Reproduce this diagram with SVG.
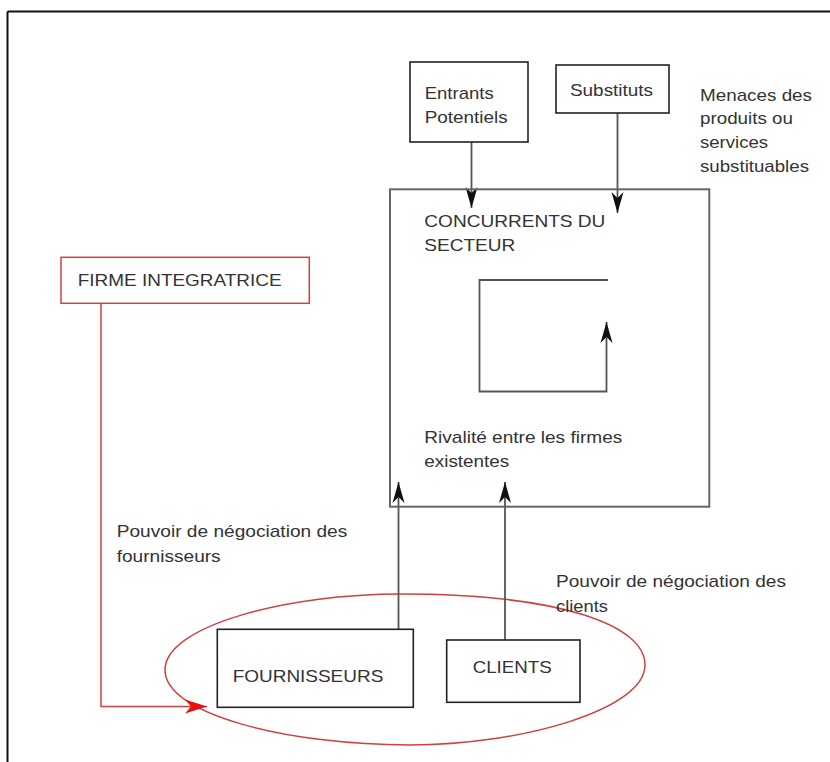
<svg xmlns="http://www.w3.org/2000/svg" width="830" height="762" viewBox="0 0 830 762">
<style>
text{font-family:"Liberation Sans",Arial,sans-serif;font-size:17px;fill:#333}
.box{fill:#fff;stroke:#222;stroke-width:1.6}
.gbox{fill:none;stroke:#666;stroke-width:2}
.con{fill:none;stroke:#555;stroke-width:1.8}
.red{fill:none;stroke:#d04040;stroke-width:1.5}
</style>
<defs>
<marker id="ah" viewBox="-22 -7 24 14" refX="0" refY="0" markerWidth="24" markerHeight="14" markerUnits="userSpaceOnUse" orient="auto">
<path d="M0,0 L-21,-6 L-15,0 L-21,6 Z" fill="#111"/>
</marker>
<marker id="rah" viewBox="-24 -8 26 16" refX="0" refY="0" markerWidth="26" markerHeight="16" markerUnits="userSpaceOnUse" orient="auto">
<path d="M0,0 L-22,-7 L-16,0 L-22,7 Z" fill="#e81010"/>
</marker>
</defs>
<g id="frame">
<line x1="7.5" y1="11.5" x2="830" y2="11.5" stroke="#111" stroke-width="2"/>
<line x1="7.5" y1="11.5" x2="7.5" y2="762" stroke="#111" stroke-width="2"/>
</g>
<g id="ellipse">
<path class="red" d="M165,670 C165,625 290,594 400,594 C560,594 645,625 645,665 C645,710 520,745 410,745 C290,745 165,715 165,670 Z"/>
</g>
<g id="connectors">
<line class="con" x1="471.5" y1="142" x2="471.5" y2="208" marker-end="url(#ah)"/>
<line class="con" x1="617.5" y1="113" x2="617.5" y2="213" marker-end="url(#ah)"/>
<path class="con" d="M608,280 H479.5 V391.5 H606.5 V322" marker-end="url(#ah)"/>
<line class="con" x1="398.5" y1="629" x2="398.5" y2="482" marker-end="url(#ah)"/>
<line class="con" x1="505" y1="640" x2="505" y2="482" marker-end="url(#ah)"/>
<path class="red" d="M101,303 V706.5 H207" marker-end="url(#rah)"/>
</g>
<g id="entrants">
<rect class="box" x="410" y="62" width="118" height="80"/>
<text x="424.7" y="99" textLength="69" lengthAdjust="spacingAndGlyphs">Entrants</text>
<text x="424.7" y="123" textLength="83" lengthAdjust="spacingAndGlyphs">Potentiels</text>
</g>
<g id="substituts">
<rect class="box" x="556" y="65" width="113" height="48"/>
<text x="570" y="96" textLength="83" lengthAdjust="spacingAndGlyphs">Substituts</text>
</g>
<g id="menaces">
<text x="700" y="100.7" textLength="112" lengthAdjust="spacingAndGlyphs">Menaces des</text>
<text x="700" y="124.3" textLength="93" lengthAdjust="spacingAndGlyphs">produits ou</text>
<text x="700" y="148" textLength="68" lengthAdjust="spacingAndGlyphs">services</text>
<text x="700" y="171.7" textLength="109" lengthAdjust="spacingAndGlyphs">substituables</text>
</g>
<g id="concurrents">
<rect class="gbox" x="390" y="189.3" width="319.3" height="317.4"/>
<text x="424.3" y="226.7" textLength="181" lengthAdjust="spacingAndGlyphs">CONCURRENTS DU</text>
<text x="424.3" y="251" textLength="91" lengthAdjust="spacingAndGlyphs">SECTEUR</text>
<text x="424.3" y="443.3" textLength="198" lengthAdjust="spacingAndGlyphs">Rivalité entre les firmes</text>
<text x="424.3" y="466.7" textLength="85" lengthAdjust="spacingAndGlyphs">existentes</text>
</g>
<g id="firme">
<rect fill="#fff" stroke="#d04040" stroke-width="1.5" x="61" y="257.3" width="248.3" height="46"/>
<text x="77.7" y="286" textLength="204" lengthAdjust="spacingAndGlyphs">FIRME INTEGRATRICE</text>
</g>
<g id="label-fournisseurs">
<text x="116.7" y="537.3" textLength="230.6" lengthAdjust="spacingAndGlyphs">Pouvoir de négociation des</text>
<text x="116.7" y="561.7" textLength="104" lengthAdjust="spacingAndGlyphs">fournisseurs</text>
</g>
<g id="label-clients">
<text x="556" y="586.7" textLength="230" lengthAdjust="spacingAndGlyphs">Pouvoir de négociation des</text>
<text x="556" y="611.7" textLength="52" lengthAdjust="spacingAndGlyphs">clients</text>
</g>
<g id="fournisseurs">
<rect class="box" x="217.3" y="629.3" width="196" height="78"/>
<text x="232.7" y="681.7" textLength="150.6" lengthAdjust="spacingAndGlyphs">FOURNISSEURS</text>
</g>
<g id="clients">
<rect class="box" x="446.7" y="640" width="133.3" height="62.3"/>
<text x="472.7" y="672.7" textLength="79" lengthAdjust="spacingAndGlyphs">CLIENTS</text>
</g>
</svg>
